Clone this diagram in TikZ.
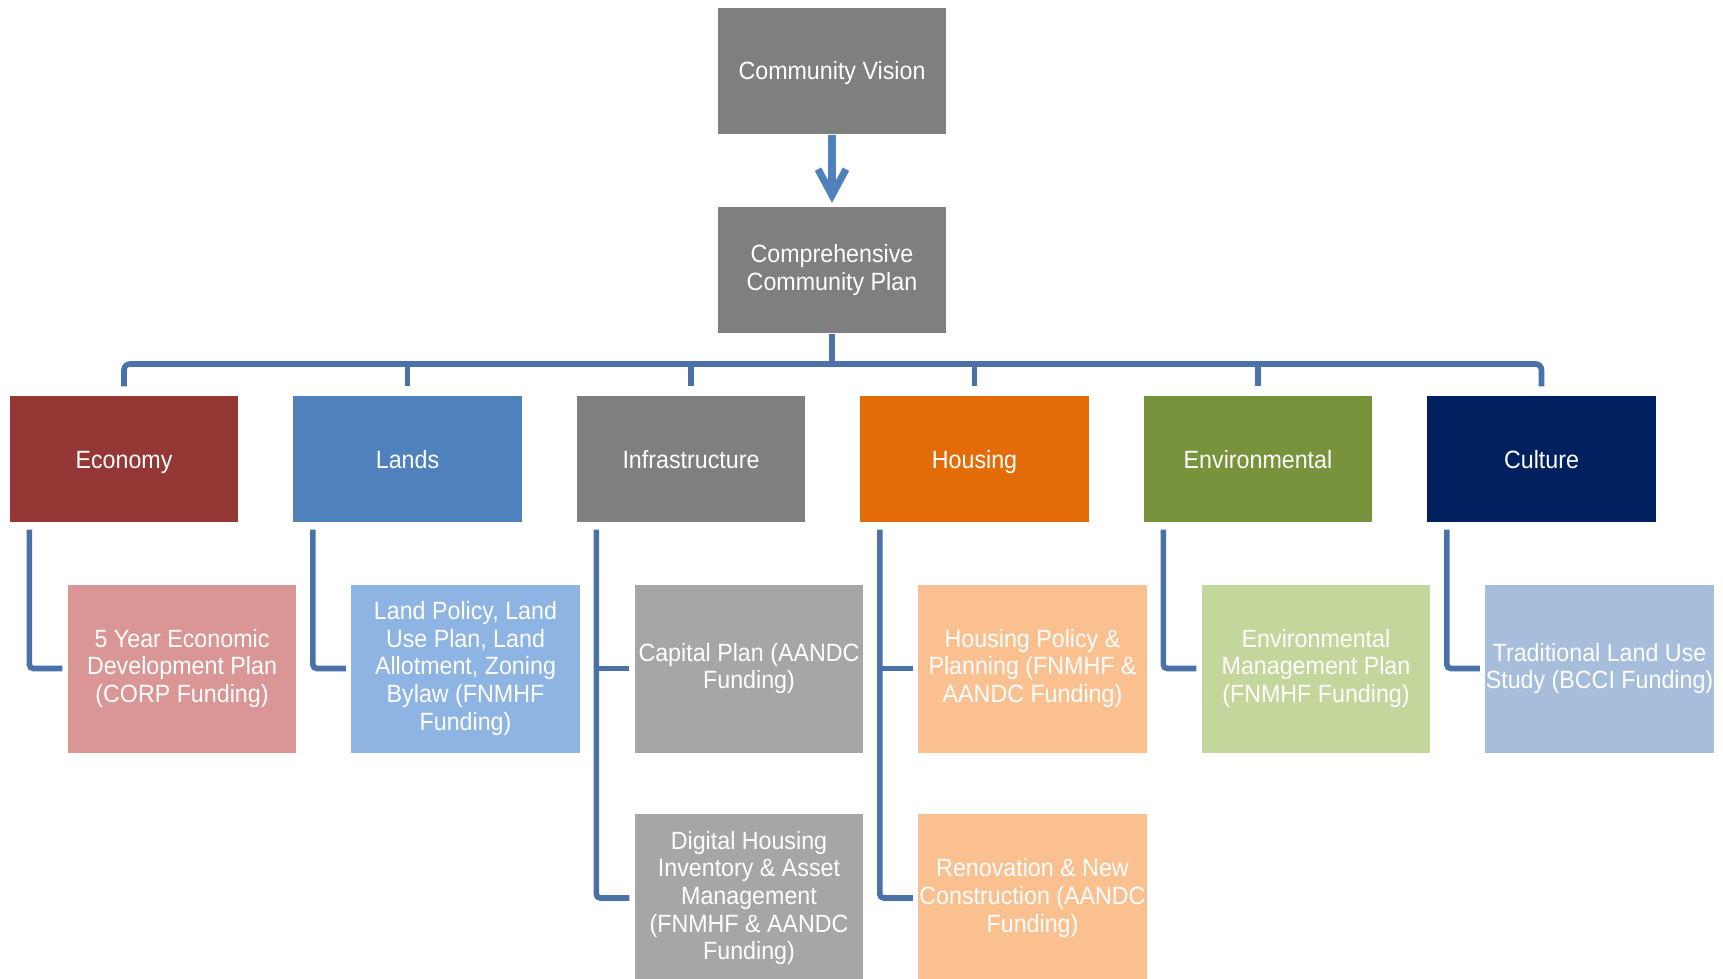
\documentclass[tikz,border=0pt]{standalone}
\usepackage{fontspec}
\setmainfont{Liberation Sans}[FakeStretch=0.93]
\usetikzlibrary{arrows.meta}

\definecolor{plangrey}{HTML}{7F7F7F}
\definecolor{econred}{HTML}{953735}
\definecolor{landblue}{HTML}{4F81BD}
\definecolor{housorange}{HTML}{E36C09}
\definecolor{envgreen}{HTML}{77933C}
\definecolor{cultnavy}{HTML}{002060}
\definecolor{econpink}{HTML}{D99694}
\definecolor{landlight}{HTML}{8EB4E3}
\definecolor{infralight}{HTML}{A6A6A6}
\definecolor{houslight}{HTML}{FAC090}
\definecolor{envlight}{HTML}{C3D69B}
\definecolor{cultlight}{HTML}{A6BEDC}
\definecolor{linkblue}{HTML}{4A72A8}

\tikzset{
	box/.style={inner sep=0pt, text=white, align=center, minimum width=114.3pt, font=\fontsize{12.5pt}{13.8pt}\selectfont},
	headbox/.style={box, minimum height=63.2pt},
	oneline/.style={text height=10pt, text depth=1pt},
	subbox/.style={box, minimum height=84pt},
	link/.style={draw=linkblue, line width=2.8pt},
	flow/.style={draw=landblue, line width=3.6pt, -{Straight Barb[length=13pt,width=14pt]}, shorten >=1.8pt}
}

\begin{document}
\begin{tikzpicture}[x=0.5pt,y=0.5pt,yscale=-1]
		\useasboundingbox (0,0) rectangle (1723,979);
		% vision and plan
		\node[headbox, oneline, fill=plangrey] (cv) at (832,71) {Community Vision};
		\node[headbox, fill=plangrey] (ccp) at (832,270) {Comprehensive\\Community Plan};
		\draw[flow] (cv.south) -- (ccp.north);
		% themes
		\node[headbox, oneline, fill=econred] (econ) at (124,459) {Economy};
		\node[headbox, oneline, fill=landblue] (lands) at (407.5,459) {Lands};
		\node[headbox, oneline, fill=plangrey] (infra) at (691,459) {Infrastructure};
		\node[headbox, oneline, fill=housorange] (housing) at (974.5,459) {Housing};
		\node[headbox, oneline, fill=envgreen] (env) at (1258,459) {Environmental};
		\node[headbox, oneline, fill=cultnavy] (culture) at (1541.5,459) {Culture};
		% plans under each theme
		\node[subbox, fill=econpink] (econA) at (182,668.5) {5 Year Economic\\Development Plan\\(CORP Funding)};
		\node[subbox, fill=landlight] (landsA) at (465.5,668.5) {Land Policy, Land\\Use Plan, Land\\Allotment, Zoning\\Bylaw (FNMHF\\Funding)};
		\node[subbox, fill=infralight] (infraA) at (749,668.5) {Capital Plan (AANDC\\Funding)};
		\node[subbox, fill=infralight] (infraB) at (749,898) {Digital Housing\\Inventory \& Asset\\Management\\(FNMHF \& AANDC\\Funding)};
		\node[subbox, fill=houslight] (housA) at (1032.5,668.5) {Housing Policy \&\\Planning (FNMHF \&\\AANDC Funding)};
		\node[subbox, fill=houslight] (housB) at (1032.5,898) {Renovation \& New\\Construction (AANDC\\Funding)};
		\node[subbox, fill=envlight] (envA) at (1316,668.5) {Environmental\\Management Plan\\(FNMHF Funding)};
		\node[subbox, fill=cultlight] (cultA) at (1599.5,668.5) {Traditional Land Use\\Study (BCCI Funding)};
		% tree lines
		\coordinate (bus) at (832,364);
		\draw[link] (ccp.south) -- (bus);
		\draw[link, rounded corners=3pt, shorten <=4.5pt, shorten >=4.5pt] (econ.north) |- (bus) -| (culture.north);
		\foreach \n in {lands,infra,housing,env}
			\draw[link, shorten >=4.5pt] (bus -| \n.north) -- (\n.north);
		\draw[link, rounded corners=2pt, shorten <=3.5pt, shorten >=2.5pt] ([xshift=10pt]econ.south west) |- (econA.west);
		\draw[link, rounded corners=2pt, shorten <=3.5pt, shorten >=2.5pt] ([xshift=10pt]lands.south west) |- (landsA.west);
		\draw[link, rounded corners=2pt, shorten <=3.5pt, shorten >=2.5pt] ([xshift=10pt]infra.south west) |- (infraB.west);
		\coordinate (infraT) at ([xshift=10pt]infra.south west);
		\draw[link, shorten >=2.5pt] (infraT |- infraA.west) -- (infraA.west);
		\draw[link, rounded corners=2pt, shorten <=3.5pt, shorten >=2.5pt] ([xshift=10pt]housing.south west) |- (housB.west);
		\coordinate (housT) at ([xshift=10pt]housing.south west);
		\draw[link, shorten >=2.5pt] (housT |- housA.west) -- (housA.west);
		\draw[link, rounded corners=2pt, shorten <=3.5pt, shorten >=2.5pt] ([xshift=10pt]env.south west) |- (envA.west);
		\draw[link, rounded corners=2pt, shorten <=3.5pt, shorten >=2.5pt] ([xshift=10pt]culture.south west) |- (cultA.west);
\end{tikzpicture}
\end{document}
